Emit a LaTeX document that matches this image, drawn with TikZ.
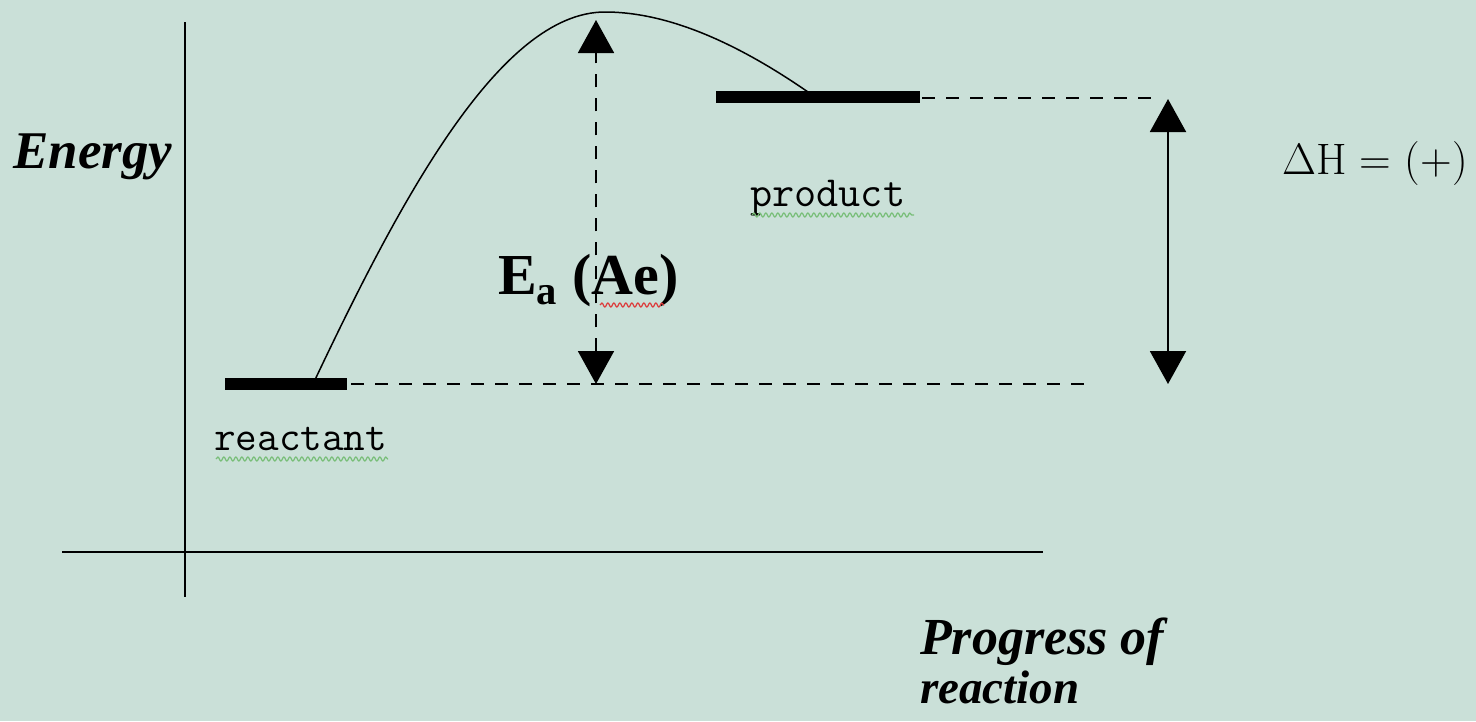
\documentclass[tikz,border=0pt]{standalone}
\usepackage{fontspec}
\setmainfont{Liberation Serif}
\newfontfamily\lmrm{Latin Modern Roman}
\newfontfamily\lmmono{Latin Modern Mono}
\usetikzlibrary{arrows.meta,decorations.pathmorphing}
\definecolor{bgc}{RGB}{202,224,216}
\definecolor{wavegreen}{RGB}{120,190,120}
\definecolor{wavered}{RGB}{220,60,60}
\tikzset{
  axisline/.style={line width=2pt},
  levelbar/.style={line width=12pt},
  guide/.style={line width=1.8pt, dash pattern=on 13pt off 11pt},
  bigtip/.style={{Triangle[width=36pt,length=33pt]}-{Triangle[width=36pt,length=33pt]}},
  lbl/.style={inner sep=0pt},
  wavy/.style={decorate, decoration={snake, segment length=6pt, amplitude=2pt}, line width=1.2pt},
}
\begin{document}
\begin{tikzpicture}[x=1pt,y=-1pt]
\fill[bgc] (0,0) rectangle (1476,721);
\useasboundingbox (0,0) rectangle (1476,721);
% axes
\coordinate (yaxtop) at (185,22);
\coordinate (yaxbot) at (185,597);
\coordinate (xaxl) at (62,552);
\coordinate (xaxr) at (1043,552);
\draw[axisline] (yaxtop) -- (yaxbot);
\draw[axisline] (xaxl) -- (xaxr);
% levels
\coordinate (rL) at (225,384);
\coordinate (rR) at (347,384);
\coordinate (pL) at (716,97);
\coordinate (pR) at (920,97);
\draw[levelbar] (rL) -- (rR);
\draw[levelbar] (pL) -- (pR);
% curve
\coordinate (cs) at (313,384);
\coordinate (peak) at (605,12);
\coordinate (ce) at (808,92);
\draw[line width=1.5pt] (cs) .. controls (400,200) and (500,12) .. (peak)
  .. controls (670,12) and (740,45) .. (ce);
% dashed guides
\coordinate (rDashEnd) at (1087,384);
\coordinate (pDashEnd) at (1160,98);
\draw[guide] (rR) ++(4,0) -- (rDashEnd);
\draw[guide] (pR) ++(2,1) -- (pDashEnd);
% Ea arrow
\coordinate (eaBot) at (596,384);
\coordinate (eaTop) at (596,20);
\draw[guide, bigtip] (eaBot) -- (eaTop);
% Delta H arrow
\coordinate (dhBot) at (1168,384);
\coordinate (dhTop) at (1168,99);
\draw[line width=2pt, bigtip] (dhBot) -- (dhTop);
% labels
\node[lbl] (energy) at (93,157) {\fontsize{53}{56}\selectfont\bfseries\itshape Energy};
\node[lbl, anchor=base west] (react) at (214,450) {\fontsize{42}{44}\selectfont\lmmono reactant};
\node[lbl, anchor=base west] (prod) at (750,206) {\fontsize{43}{44}\selectfont\lmmono product};
\node[lbl, anchor=base west] (ea) at (498,294) {\fontsize{58}{60}\selectfont\bfseries E\textsubscript{a} (Ae)};
\node[lbl, anchor=base west] (dh) at (1282,174) {\fontsize{44}{46}\selectfont\lmrm ΔH = (+)};
\node[lbl, anchor=base west] (prog) at (920,654) {\fontsize{52}{54}\selectfont\bfseries\itshape Progress of};
\node[lbl, anchor=base west] (reac) at (920,703) {\fontsize{47}{50}\selectfont\bfseries\itshape reaction};
% spell-check underlines
\draw[wavy, wavegreen] (216,459) -- (388,459);
\draw[wavy, wavegreen] (752,215) -- (914,215);
\draw[wavy, wavered] (600,305) -- (664,305);
\end{tikzpicture}
\end{document}
